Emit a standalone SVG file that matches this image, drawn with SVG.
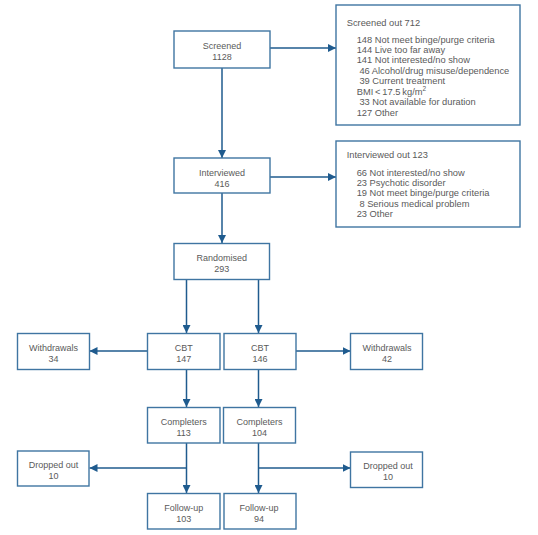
<svg xmlns="http://www.w3.org/2000/svg" width="538" height="535" viewBox="0 0 538 535">
<style>
.box{fill:#fff;stroke:#3f75a2;stroke-width:1.4}
.t{font-family:"Liberation Sans",Arial,sans-serif;font-size:9px;fill:#5a5a5a;text-anchor:middle}
.l{font-family:"Liberation Sans",Arial,sans-serif;font-size:9.3px;fill:#5a5a5a}
.c{fill:none;stroke:#1f5b8e;stroke-width:1.5}
</style>
<defs>
<marker id="ah" viewBox="0 0 10 10" refX="10" refY="5" markerWidth="8" markerHeight="8" markerUnits="userSpaceOnUse" orient="auto">
<path d="M0,0 L10,5 L0,10 z" fill="#1f5b8e"/>
</marker>
</defs>
<rect width="538" height="535" fill="#fff"/>
<g id="connectors">
<line class="c" x1="270" y1="48" x2="336" y2="48" marker-end="url(#ah)"/>
<line class="c" x1="222" y1="68" x2="222" y2="158" marker-end="url(#ah)"/>
<line class="c" x1="270" y1="177" x2="336" y2="177" marker-end="url(#ah)"/>
<line class="c" x1="222" y1="193" x2="222" y2="243" marker-end="url(#ah)"/>
<line class="c" x1="186.5" y1="279" x2="186.5" y2="333" marker-end="url(#ah)"/>
<line class="c" x1="258.5" y1="279" x2="258.5" y2="333" marker-end="url(#ah)"/>
<line class="c" x1="147.5" y1="351" x2="89.5" y2="351" marker-end="url(#ah)"/>
<line class="c" x1="296" y1="351" x2="350.5" y2="351" marker-end="url(#ah)"/>
<line class="c" x1="186.5" y1="369" x2="186.5" y2="407" marker-end="url(#ah)"/>
<line class="c" x1="258.5" y1="369" x2="258.5" y2="407" marker-end="url(#ah)"/>
<line class="c" x1="186.5" y1="443" x2="186.5" y2="493" marker-end="url(#ah)"/>
<line class="c" x1="258.5" y1="443" x2="258.5" y2="493" marker-end="url(#ah)"/>
<line class="c" x1="186.5" y1="468" x2="89.5" y2="468" marker-end="url(#ah)"/>
<line class="c" x1="258.5" y1="468" x2="350.5" y2="468" marker-end="url(#ah)"/>
</g>
<g id="screened"><rect class="box" x="174" y="31" width="96" height="37"/><text class="t" x="222" y="48.5">Screened</text><text class="t" x="222" y="59.5">1128</text></g>
<g id="screened-out"><rect class="box" x="336" y="5" width="184" height="120"/>
<text class="l" x="346.7" y="25.5">Screened out 712</text>
<text class="l" x="356.7" y="42.5">148 Not meet binge/purge criteria</text>
<text class="l" x="356.7" y="53">144 Live too far away</text>
<text class="l" x="356.7" y="63.4">141 Not interested/no show</text>
<text class="l" x="359.4" y="73.9">46 Alcohol/drug misuse/dependence</text>
<text class="l" x="359.4" y="84.3">39 Current treatment</text>
<text class="l" x="356.7" y="94.8">BMI&#8201;&lt;&#8201;17.5&#8201;kg/m<tspan font-size="6.5" dy="-3.5">2</tspan></text>
<text class="l" x="359.4" y="105.2">33 Not available for duration</text>
<text class="l" x="356.7" y="115.7">127 Other</text>
</g>
<g id="interviewed"><rect class="box" x="174" y="158" width="96" height="35"/><text class="t" x="222" y="176">Interviewed</text><text class="t" x="222" y="186.5">416</text></g>
<g id="interviewed-out"><rect class="box" x="336" y="141" width="184" height="86"/>
<text class="l" x="346.7" y="158.3">Interviewed out 123</text>
<text class="l" x="356.7" y="175.5">66 Not interested/no show</text>
<text class="l" x="356.7" y="186">23 Psychotic disorder</text>
<text class="l" x="356.7" y="196.4">19 Not meet binge/purge criteria</text>
<text class="l" x="359.4" y="206.9">8 Serious medical problem</text>
<text class="l" x="356.7" y="217.3">23 Other</text>
</g>
<g id="randomised"><rect class="box" x="174" y="243.5" width="95.5" height="36"/><text class="t" x="221.7" y="260.5">Randomised</text><text class="t" x="221.7" y="271.5">293</text></g>
<g id="cbt147"><rect class="box" x="147.5" y="333.5" width="72.5" height="36"/><text class="t" x="183.7" y="350.5">CBT</text><text class="t" x="183.7" y="361.5">147</text></g>
<g id="cbt146"><rect class="box" x="224" y="333.5" width="72" height="36"/><text class="t" x="260" y="350.5">CBT</text><text class="t" x="260" y="361.5">146</text></g>
<g id="withdrawals34"><rect class="box" x="17.5" y="333.5" width="72" height="36"/><text class="t" x="53.5" y="350.5">Withdrawals</text><text class="t" x="53.5" y="361.5">34</text></g>
<g id="withdrawals42"><rect class="box" x="350.5" y="333.5" width="72" height="36"/><text class="t" x="387" y="350.5">Withdrawals</text><text class="t" x="387" y="361.5">42</text></g>
<g id="completers113"><rect class="box" x="147.5" y="407.5" width="72.5" height="35.5"/><text class="t" x="183.7" y="424.5">Completers</text><text class="t" x="183.7" y="435.5">113</text></g>
<g id="completers104"><rect class="box" x="223.5" y="407.5" width="72" height="35.5"/><text class="t" x="259.5" y="424.5">Completers</text><text class="t" x="259.5" y="435.5">104</text></g>
<g id="dropped-left"><rect class="box" x="17.5" y="451" width="71.5" height="35"/><text class="t" x="53.5" y="468">Dropped out</text><text class="t" x="53.5" y="479">10</text></g>
<g id="dropped-right"><rect class="box" x="350.5" y="452" width="72" height="35.5"/><text class="t" x="388" y="469">Dropped out</text><text class="t" x="388" y="480">10</text></g>
<g id="followup103"><rect class="box" x="147.5" y="493.5" width="72.5" height="35.5"/><text class="t" x="183.7" y="510.5">Follow-up</text><text class="t" x="183.7" y="521.5">103</text></g>
<g id="followup94"><rect class="box" x="224" y="493.5" width="72" height="35.5"/><text class="t" x="259" y="510.5">Follow-up</text><text class="t" x="259" y="521.5">94</text></g>
</svg>
